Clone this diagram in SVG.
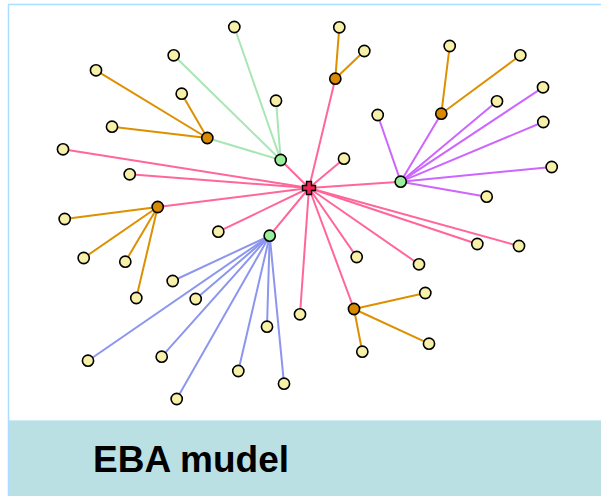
<svg xmlns="http://www.w3.org/2000/svg" width="601" height="496" viewBox="0 0 601 496">
<style>
.e{stroke-width:2;fill:none;stroke-linecap:round}
.p{stroke:#FF6699}
.o{stroke:#DD9000}
.g{stroke:#A8E6B4}
.v{stroke:#CC66FF}
.b{stroke:#8C96EE}
.leaf{fill:#F7F0A8;stroke:#000;stroke-width:1.6}
.hubo{fill:#D98A00;stroke:#000;stroke-width:1.6}
.hubg{fill:#99EE99;stroke:#000;stroke-width:1.6}
.t{font-family:"Liberation Sans",Arial,sans-serif;font-weight:bold;font-size:37px;fill:#000}
</style>
<rect x="0" y="0" width="601" height="496" fill="#fff"/>
<rect x="8" y="420" width="593" height="76" fill="#BBE0E4"/>
<line x1="8" y1="420.5" x2="601" y2="420.5" stroke="#CFEAF0" stroke-width="1"/>
<line x1="8" y1="4.5" x2="601" y2="4.5" stroke="#AADDFF" stroke-width="1.5"/>
<line x1="8.5" y1="4" x2="8.5" y2="496" stroke="#AADDFF" stroke-width="1.5"/>
<g id="connectors">
<g class="e p">
<line x1="309" y1="188" x2="63" y2="149.3"/>
<line x1="309" y1="188" x2="129.7" y2="174.3"/>
<line x1="309" y1="188" x2="157.7" y2="207"/>
<line x1="309" y1="188" x2="280.7" y2="160"/>
<line x1="309" y1="188" x2="335.3" y2="78.7"/>
<line x1="309" y1="188" x2="344" y2="158.7"/>
<line x1="309" y1="188" x2="400.7" y2="181.7"/>
<line x1="309" y1="188" x2="477.3" y2="244"/>
<line x1="309" y1="188" x2="519" y2="246"/>
<line x1="309" y1="188" x2="356.7" y2="257"/>
<line x1="309" y1="188" x2="419" y2="264.3"/>
<line x1="309" y1="188" x2="354" y2="309"/>
<line x1="309" y1="188" x2="300" y2="314.3"/>
<line x1="309" y1="188" x2="269.7" y2="235.7"/>
<line x1="309" y1="188" x2="218.3" y2="231.7"/>
</g>
<g class="e g">
<line x1="280.7" y1="160" x2="234.3" y2="27"/>
<line x1="280.7" y1="160" x2="173.7" y2="55.3"/>
<line x1="280.7" y1="160" x2="276" y2="100.7"/>
<line x1="280.7" y1="160" x2="207.3" y2="138"/>
</g>
<g class="e o">
<line x1="207.3" y1="138" x2="96" y2="70.3"/>
<line x1="207.3" y1="138" x2="181.7" y2="93.7"/>
<line x1="207.3" y1="138" x2="112" y2="126.7"/>
<line x1="335.3" y1="78.7" x2="339.3" y2="27.3"/>
<line x1="335.3" y1="78.7" x2="364.3" y2="51"/>
<line x1="441.3" y1="113.7" x2="449.7" y2="46"/>
<line x1="441.3" y1="113.7" x2="520.3" y2="55.3"/>
<line x1="157.7" y1="207" x2="64.7" y2="219"/>
<line x1="157.7" y1="207" x2="83.7" y2="258"/>
<line x1="157.7" y1="207" x2="125.3" y2="261.7"/>
<line x1="157.7" y1="207" x2="136.3" y2="298"/>
<line x1="354" y1="309" x2="425.3" y2="293"/>
<line x1="354" y1="309" x2="429" y2="343.7"/>
<line x1="354" y1="309" x2="362.3" y2="351.7"/>
</g>
<g class="e v">
<line x1="400.7" y1="181.7" x2="441.3" y2="113.7"/>
<line x1="400.7" y1="181.7" x2="377.7" y2="115"/>
<line x1="400.7" y1="181.7" x2="497" y2="101.3"/>
<line x1="400.7" y1="181.7" x2="543" y2="87.3"/>
<line x1="400.7" y1="181.7" x2="543.3" y2="122"/>
<line x1="400.7" y1="181.7" x2="551.7" y2="167"/>
<line x1="400.7" y1="181.7" x2="486.7" y2="196.7"/>
</g>
<g class="e b">
<line x1="269.7" y1="235.7" x2="172.7" y2="281"/>
<line x1="269.7" y1="235.7" x2="195.7" y2="299"/>
<line x1="269.7" y1="235.7" x2="88" y2="360.7"/>
<line x1="269.7" y1="235.7" x2="161.7" y2="356.7"/>
<line x1="269.7" y1="235.7" x2="176.7" y2="399"/>
<line x1="269.7" y1="235.7" x2="238.3" y2="371"/>
<line x1="269.7" y1="235.7" x2="267" y2="326.7"/>
<line x1="269.7" y1="235.7" x2="284" y2="383.7"/>
</g>
</g>
<g id="hubs">
<circle id="hub-o1" class="hubo" cx="207.3" cy="138" r="5.6"/>
<circle id="hub-o2" class="hubo" cx="335.3" cy="78.7" r="5.6"/>
<circle id="hub-o3" class="hubo" cx="441.3" cy="113.7" r="5.6"/>
<circle id="hub-o4" class="hubo" cx="157.7" cy="207" r="5.6"/>
<circle id="hub-o5" class="hubo" cx="354" cy="309" r="5.6"/>
<circle id="hub-g1" class="hubg" cx="280.7" cy="160" r="5.6"/>
<circle id="hub-g2" class="hubg" cx="400.7" cy="181.7" r="5.6"/>
<circle id="hub-g3" class="hubg" cx="269.7" cy="235.7" r="5.6"/>
</g>
<g id="leaves">
<circle id="n1" class="leaf" cx="234.3" cy="27" r="5.6"/>
<circle id="n2" class="leaf" cx="173.7" cy="55.3" r="5.6"/>
<circle id="n3" class="leaf" cx="96" cy="70.3" r="5.6"/>
<circle id="n4" class="leaf" cx="181.7" cy="93.7" r="5.6"/>
<circle id="n5" class="leaf" cx="276" cy="100.7" r="5.6"/>
<circle id="n6" class="leaf" cx="112" cy="126.7" r="5.6"/>
<circle id="n7" class="leaf" cx="63" cy="149.3" r="5.6"/>
<circle id="n8" class="leaf" cx="129.7" cy="174.3" r="5.6"/>
<circle id="n9" class="leaf" cx="339.3" cy="27.3" r="5.6"/>
<circle id="n10" class="leaf" cx="364.3" cy="51" r="5.6"/>
<circle id="n11" class="leaf" cx="449.7" cy="46" r="5.6"/>
<circle id="n12" class="leaf" cx="520.3" cy="55.3" r="5.6"/>
<circle id="n13" class="leaf" cx="543" cy="87.3" r="5.6"/>
<circle id="n14" class="leaf" cx="497" cy="101.3" r="5.6"/>
<circle id="n15" class="leaf" cx="377.7" cy="115" r="5.6"/>
<circle id="n16" class="leaf" cx="543.3" cy="122" r="5.6"/>
<circle id="n17" class="leaf" cx="344" cy="158.7" r="5.6"/>
<circle id="n18" class="leaf" cx="551.7" cy="167" r="5.6"/>
<circle id="n19" class="leaf" cx="486.7" cy="196.7" r="5.6"/>
<circle id="n20" class="leaf" cx="64.7" cy="219" r="5.6"/>
<circle id="n21" class="leaf" cx="218.3" cy="231.7" r="5.6"/>
<circle id="n22" class="leaf" cx="83.7" cy="258" r="5.6"/>
<circle id="n23" class="leaf" cx="125.3" cy="261.7" r="5.6"/>
<circle id="n24" class="leaf" cx="172.7" cy="281" r="5.6"/>
<circle id="n25" class="leaf" cx="136.3" cy="298" r="5.6"/>
<circle id="n26" class="leaf" cx="195.7" cy="299" r="5.6"/>
<circle id="n27" class="leaf" cx="300" cy="314.3" r="5.6"/>
<circle id="n28" class="leaf" cx="267" cy="326.7" r="5.6"/>
<circle id="n29" class="leaf" cx="88" cy="360.7" r="5.6"/>
<circle id="n30" class="leaf" cx="161.7" cy="356.7" r="5.6"/>
<circle id="n31" class="leaf" cx="238.3" cy="371" r="5.6"/>
<circle id="n32" class="leaf" cx="284" cy="383.7" r="5.6"/>
<circle id="n33" class="leaf" cx="176.7" cy="399" r="5.6"/>
<circle id="n34" class="leaf" cx="477.3" cy="244" r="5.6"/>
<circle id="n35" class="leaf" cx="519" cy="246" r="5.6"/>
<circle id="n36" class="leaf" cx="356.7" cy="257" r="5.6"/>
<circle id="n37" class="leaf" cx="419" cy="264.3" r="5.6"/>
<circle id="n38" class="leaf" cx="425.3" cy="293" r="5.6"/>
<circle id="n39" class="leaf" cx="429" cy="343.7" r="5.6"/>
<circle id="n40" class="leaf" cx="362.3" cy="351.7" r="5.6"/>
</g>
<g id="center">
<path d="M306.5,181.5h5v4h4v5h-4v4h-5v-4h-4v-5h4z" fill="#EE2255" stroke="#000" stroke-width="1.4" stroke-linejoin="miter"/>
</g>
<g id="title">
<text class="t" x="93" y="472">EBA mudel</text>
</g>
</svg>
